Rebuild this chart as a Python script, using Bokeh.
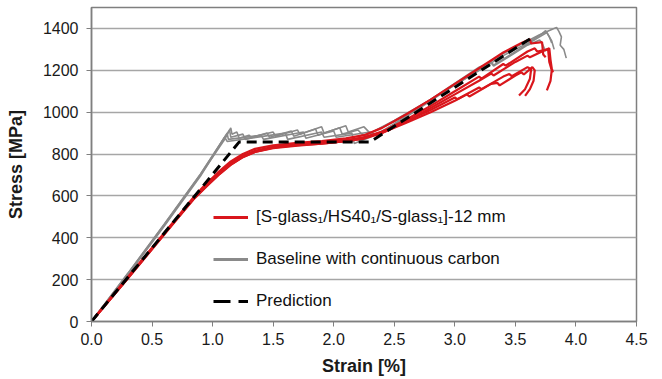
from bokeh.plotting import figure
from bokeh.models import Range1d, FixedTicker, NumeralTickFormatter, Legend, LegendItem, ColumnDataSource
from bokeh.embed import file_html
from bokeh.resources import INLINE

# ---- data ----
red1_strain = [0, 0.1, 0.3, 0.5, 0.7, 0.85, 0.95, 1.05, 1.15, 1.25, 1.35, 1.5, 1.7, 1.9, 2.1, 2.25, 2.4, 2.6, 2.8, 3.0, 3.2, 3.4, 3.55, 3.62, 3.63, 3.72, 3.73, 3.75]
red1_stress = [0, 70, 210, 350, 490, 595, 655, 715, 765, 800, 825, 842, 853, 862, 875, 890, 925, 990, 1060, 1135, 1210, 1285, 1330, 1348, 1328, 1335, 1275, 1262]
red2_strain = [0, 0.1, 0.3, 0.5, 0.7, 0.85, 0.95, 1.05, 1.15, 1.25, 1.35, 1.5, 1.7, 1.9, 2.1, 2.25, 2.4, 2.6, 2.8, 3.0, 3.2, 3.22, 3.4, 3.42, 3.6, 3.66, 3.68, 3.77, 3.78, 3.8, 3.79, 3.76]
red2_stress = [0, 68, 205, 345, 485, 588, 645, 700, 748, 785, 810, 830, 842, 850, 862, 875, 905, 965, 1030, 1100, 1170, 1160, 1230, 1222, 1290, 1305, 1290, 1300, 1240, 1200, 1150, 1104]
red3_strain = [0, 0.1, 0.3, 0.5, 0.7, 0.85, 0.95, 1.05, 1.15, 1.25, 1.35, 1.5, 1.7, 1.9, 2.1, 2.25, 2.4, 2.6, 2.8, 3.0, 3.02, 3.2, 3.22, 3.4, 3.45, 3.47, 3.6, 3.63, 3.62, 3.58, 3.53]
red3_stress = [0, 72, 212, 352, 492, 598, 660, 712, 758, 792, 815, 835, 846, 855, 866, 880, 908, 958, 1010, 1070, 1062, 1118, 1110, 1170, 1182, 1172, 1215, 1205, 1160, 1110, 1080]
red4_strain = [0, 0.1, 0.3, 0.5, 0.7, 0.85, 0.95, 1.05, 1.15, 1.25, 1.35, 1.5, 1.7, 1.9, 2.1, 2.25, 2.4, 2.6, 2.8, 3.0, 3.1, 3.12, 3.3, 3.35, 3.37, 3.5, 3.55, 3.57, 3.64, 3.66, 3.65, 3.62, 3.58]
red4_stress = [0, 70, 208, 348, 488, 592, 650, 705, 752, 788, 812, 832, 844, 853, 865, 878, 902, 950, 1000, 1055, 1085, 1075, 1135, 1140, 1128, 1175, 1190, 1180, 1215, 1200, 1150, 1110, 1078]
red5_strain = [0, 0.1, 0.3, 0.5, 0.7, 0.85, 0.95, 1.05, 1.15, 1.25, 1.35, 1.5, 1.7, 1.9, 2.1, 2.25, 2.4, 2.6, 2.8, 3.0, 3.2, 3.3, 3.32, 3.5, 3.6, 3.62, 3.72, 3.78, 3.79, 3.8, 3.81]
red5_stress = [0, 69, 207, 347, 487, 590, 648, 702, 750, 786, 810, 828, 840, 850, 862, 874, 900, 955, 1020, 1085, 1150, 1185, 1175, 1240, 1270, 1262, 1290, 1305, 1250, 1210, 1190]

gray1_strain = [0, 0.3, 0.6, 0.9, 1.1, 1.15, 1.16, 1.2, 1.22, 1.3, 1.32, 1.5, 1.52, 1.7, 1.72, 1.9, 1.92, 2.1, 2.12, 2.25, 2.3, 2.5, 2.8, 3.1, 3.4, 3.6, 3.7, 3.8, 3.84, 3.86, 3.88, 3.87, 3.9, 3.92]
gray1_stress = [0, 225, 460, 700, 870, 925, 895, 905, 875, 890, 880, 905, 885, 915, 895, 930, 900, 935, 905, 930, 900, 960, 1060, 1170, 1280, 1340, 1370, 1395, 1405, 1385, 1360, 1320, 1300, 1258]
gray2_strain = [0, 0.3, 0.6, 0.9, 1.1, 1.14, 1.15, 1.25, 1.27, 1.45, 1.47, 1.65, 1.67, 1.85, 1.87, 2.05, 2.07, 2.2, 2.25, 2.5, 2.8, 3.1, 3.4, 3.6, 3.72, 3.75, 3.77, 3.8, 3.82]
gray2_stress = [0, 230, 465, 705, 880, 915, 880, 895, 870, 900, 880, 910, 885, 920, 890, 925, 895, 915, 885, 955, 1060, 1165, 1270, 1330, 1375, 1390, 1370, 1340, 1300]
gray3_strain = [0, 0.3, 0.6, 0.9, 1.12, 1.13, 1.4, 1.42, 1.75, 1.77, 2.0, 2.02, 2.3, 2.35, 2.5, 3.2, 3.3, 3.32, 3.5, 3.7, 3.76, 3.78, 3.8]
gray3_stress = [0, 228, 462, 702, 900, 870, 890, 870, 905, 875, 910, 880, 905, 890, 945, 1215, 1240, 1225, 1290, 1360, 1380, 1360, 1330]
gray4_strain = [0, 0.3, 0.6, 0.9, 1.1, 1.12, 1.3, 1.6, 1.62, 1.9, 1.92, 2.15, 2.17, 2.3, 2.5, 3.0, 3.3, 3.32, 3.6, 3.7, 3.72, 3.75]
gray4_stress = [0, 222, 455, 695, 880, 860, 875, 900, 870, 905, 880, 900, 850, 880, 940, 1130, 1235, 1220, 1320, 1345, 1330, 1290]

pred_strain = [0, 1.22, 2.3, 3.62]
pred_stress = [0, 858, 858, 1350]

x_ticks = [0, 0.5, 1.0, 1.5, 2.0, 2.5, 3.0, 3.5, 4.0, 4.5]
y_ticks = [0, 200, 400, 600, 800, 1000, 1200, 1400]

label_red = "[S-glass\u2081/HS40\u2081/S-glass\u2081]-12 mm"
label_gray = "Baseline with continuous carbon"
label_pred = "Prediction"

RED = "#d9161c"
GRAY = "#8a8a8a"
FONT = "Liberation Sans"
NAN = float("nan")

p = figure(width=662, height=379, output_backend="svg", toolbar_location=None,
           x_range=Range1d(0, 4.5), y_range=Range1d(0, 1500),
           min_border_left=91, min_border_right=26, min_border_top=7, min_border_bottom=58)

p.background_fill_color = "white"
p.outline_line_color = "#7f7f7f"
p.outline_line_width = 1.5

p.xgrid.visible = False
p.ygrid.ticker = FixedTicker(ticks=y_ticks[1:])
p.ygrid.grid_line_color = "#a6a6a6"
p.ygrid.grid_line_width = 1.5

for ax in (p.xaxis[0], p.yaxis[0]):
    ax.axis_line_color = "#7f7f7f"
    ax.axis_line_width = 1.5
    ax.major_tick_line_color = "#7f7f7f"
    ax.major_tick_out = 5
    ax.major_tick_in = 0
    ax.minor_tick_line_color = None
    ax.major_label_text_font = FONT
    ax.major_label_text_font_size = "16px"
    ax.major_label_text_color = "#1a1a1a"
    ax.axis_label_text_font = FONT
    ax.axis_label_text_font_size = "18px"
    ax.axis_label_text_font_style = "bold"
    ax.axis_label_text_color = "#1a1a1a"

p.xaxis.ticker = FixedTicker(ticks=x_ticks)
p.xaxis.formatter = NumeralTickFormatter(format="0.0")
p.yaxis.ticker = FixedTicker(ticks=y_ticks)
p.xaxis.axis_label = "Strain [%]"
p.yaxis.axis_label = "Stress [MPa]"
p.xaxis.major_label_standoff = 6
p.yaxis.major_label_standoff = 8
p.xaxis.axis_label_standoff = 8
p.yaxis.axis_label_standoff = 14

gray_src = ColumnDataSource(dict(
    xs=[gray1_strain, gray2_strain, gray3_strain, gray4_strain],
    ys=[gray1_stress, gray2_stress, gray3_stress, gray4_stress]))
red_src = ColumnDataSource(dict(
    xs=[red1_strain, red2_strain, red3_strain, red4_strain, red5_strain],
    ys=[red1_stress, red2_stress, red3_stress, red4_stress, red5_stress]))

gr = p.multi_line("xs", "ys", source=gray_src, line_color=GRAY, line_width=1.6)
rr = p.multi_line("xs", "ys", source=red_src, line_color=RED, line_width=2.2)
pr = p.line(pred_strain, pred_stress, line_color="black", line_width=3, line_dash="10 6")

# legend-only proxies (no visible marks)
lr = p.line([NAN], [NAN], line_color=RED, line_width=3)
lg = p.line([NAN], [NAN], line_color=GRAY, line_width=3)
lp = p.line([NAN], [NAN], line_color="black", line_width=3, line_dash="17 8")

legend = Legend(items=[LegendItem(label=label_red, renderers=[lr]),
                       LegendItem(label=label_gray, renderers=[lg]),
                       LegendItem(label=label_pred, renderers=[lp])],
                location=(122, 10))
legend.glyph_width = 35
legend.glyph_height = 20
legend.label_height = 20
legend.spacing = 22
legend.padding = 0
legend.margin = 0
legend.label_standoff = 8
legend.label_text_font = FONT
legend.label_text_font_size = "17px"
legend.label_text_color = "#111111"
legend.background_fill_alpha = 0
legend.border_line_alpha = 0
p.add_layout(legend, "center")

open("out.html", "w").write(file_html(p, INLINE))
